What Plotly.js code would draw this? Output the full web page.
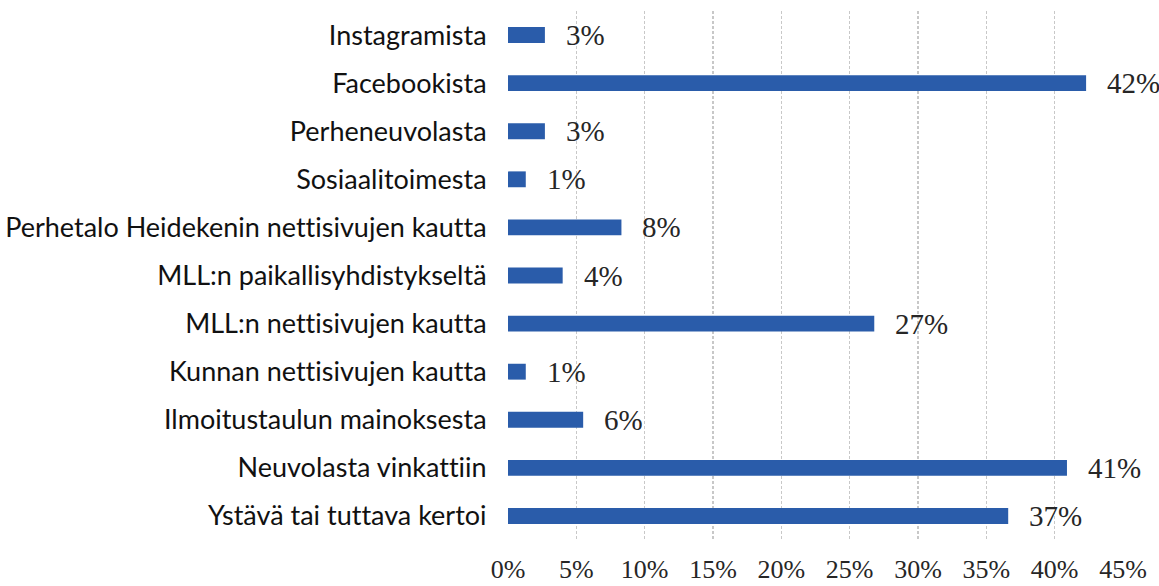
<!DOCTYPE html>
<html>
<head>
<meta charset="utf-8">
<script src="https://cdn.plot.ly/plotly-3.0.1.min.js"></script>
<style>html,body{margin:0;padding:0;background:#fff;}#chart{width:1159px;height:586px;}
.ytick text{font-variant-ligatures:none !important;font-feature-settings:"liga" 0 !important;}</style>
</head>
<body>
<div id="chart"></div>
<script>
const categories = [
  "Instagramista",
  "Facebookista",
  "Perheneuvolasta",
  "Sosiaalitoimesta",
  "Perhetalo Heidekenin nettisivujen kautta",
  "MLL:n paikallisyhdistykseltä",
  "MLL:n nettisivujen kautta",
  "Kunnan nettisivujen kautta",
  "Ilmoitustaulun mainoksesta",
  "Neuvolasta vinkattiin",
  "Ystävä tai tuttava kertoi"
];
const values = [2.7, 42.3, 2.7, 1.3, 8.3, 4.0, 26.8, 1.3, 5.5, 40.9, 36.6];
const valueLabels = ["3%", "42%", "3%", "1%", "8%", "4%", "27%", "1%", "6%", "41%", "37%"];
const tickValues = [0, 5, 10, 15, 20, 25, 30, 35, 40, 45];
const tickLabels = ["0%", "5%", "10%", "15%", "20%", "25%", "30%", "35%", "40%", "45%"];

const serif = "Liberation Serif, Times New Roman, serif";

const trace = {
  type: "bar",
  orientation: "h",
  x: values,
  y: categories,
  marker: {color: "#2a5caa"},
  hoverinfo: "none"
};

const annotations = categories.map((c, i) => ({
  x: values[i], y: c, xref: "x", yref: "y",
  text: valueLabels[i], showarrow: false,
  xanchor: "left", yanchor: "middle", xshift: 19,
  font: {family: serif, size: 29, color: "#262626"}
}));

const layout = {
  width: 1159, height: 586,
  margin: {l: 508, r: 36, t: 11, b: 46},
  paper_bgcolor: "#ffffff",
  plot_bgcolor: "#ffffff",
  bargap: 0.67,
  showlegend: false,
  xaxis: {
    range: [0, 45],
    tickvals: tickValues,
    ticktext: tickLabels,
    showgrid: true,
    gridcolor: "#c8c8c8",
    gridwidth: 1.5,
    griddash: "3px,2px",
    zeroline: false,
    showline: false,
    ticks: "outside",
    ticklen: 6,
    tickcolor: "rgba(0,0,0,0)",
    tickfont: {family: serif, size: 26, color: "#262626"},
    fixedrange: true
  },
  yaxis: {
    autorange: "reversed",
    type: "category",
    showgrid: false,
    zeroline: false,
    showline: false,
    ticks: "outside",
    ticklen: 15,
    tickcolor: "rgba(0,0,0,0)",
    tickfont: {family: "Lato, sans-serif", size: 27, color: "#111111"},
    fixedrange: true
  },
  annotations: annotations
};

Plotly.newPlot("chart", [trace], layout, {displayModeBar: false, staticPlot: true});
</script>
</body>
</html>
